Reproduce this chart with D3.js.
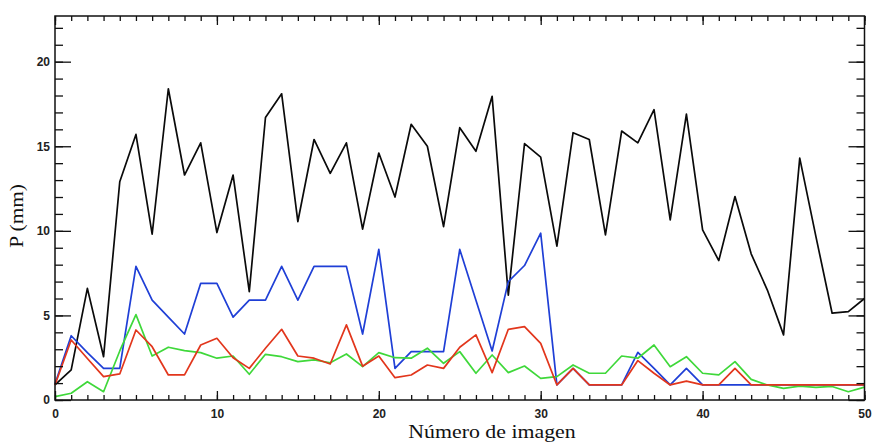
<!DOCTYPE html>
<html>
<head>
<meta charset="utf-8">
<script src="https://cdn.jsdelivr.net/npm/d3@7"></script>
<style>
	body { margin: 0; background: #fff; }
	svg { display: block; }
	.tick text { font-family: "Liberation Sans", Arial, sans-serif; font-size: 12px; font-weight: bold; fill: #222; }
	.tick line { stroke: #111; stroke-width: 1.3; }
	.title { font-family: "Liberation Serif", "Times New Roman", serif; font-size: 19px; fill: #111; }
</style>
</head>
<body>
<svg width="872" height="444"></svg>
<script>
// Data
var imageNumbers = d3.range(0, 51);
var blackSeries = [0.89, 1.78, 6.6, 2.56, 12.9, 15.7, 9.8, 18.4, 13.3, 15.2, 9.9,
	13.3, 6.4, 16.7, 18.1, 10.55, 15.4, 13.4, 15.2, 10.1, 14.6,
	12.0, 16.3, 15.0, 10.25, 16.1, 14.7, 17.95, 6.2, 15.15, 14.36,
	9.1, 15.8, 15.4, 9.76, 15.9, 15.2, 17.16, 10.65, 16.9, 10.06,
	8.24, 12.03, 8.64, 6.5, 3.85, 14.3, 9.66, 5.13, 5.22, 6.0];
var blueSeries = [0.95, 3.8, 2.8, 1.87, 1.87, 7.9, 5.9, 4.9, 3.9, 6.9, 6.9,
	4.9, 5.9, 5.9, 7.9, 5.9, 7.9, 7.9, 7.9, 3.9, 8.9,
	1.87, 2.86, 2.86, 2.86, 8.9, 5.9, 2.9, 7.0, 7.95, 9.86,
	0.89, 1.87, 0.89, 0.89, 0.89, 2.82, 1.87, 0.89, 1.87, 0.89,
	0.89, 0.89, 0.89, 0.89, 0.89, 0.89, 0.89, 0.89, 0.89, 0.89];
var greenSeries = [0.2, 0.4, 1.08, 0.49, 2.9, 5.05, 2.6, 3.12, 2.92, 2.8, 2.47,
	2.6, 1.52, 2.7, 2.56, 2.27, 2.37, 2.2, 2.72, 1.97, 2.8,
	2.5, 2.47, 3.06, 2.17, 2.86, 1.58, 2.66, 1.62, 2.01, 1.28,
	1.38, 2.07, 1.58, 1.58, 2.6, 2.47, 3.25, 1.97, 2.56, 1.58,
	1.48, 2.27, 1.22, 0.89, 0.69, 0.82, 0.75, 0.8, 0.49, 0.76];
var redSeries = [0.89, 3.55, 2.45, 1.38, 1.54, 4.14, 3.15, 1.48, 1.48, 3.25, 3.65,
	2.5, 1.87, 3.06, 4.18, 2.6, 2.47, 2.13, 4.44, 2.0, 2.6,
	1.32, 1.48, 2.07, 1.87, 3.12, 3.85, 1.62, 4.18, 4.34, 3.35,
	0.89, 1.87, 0.89, 0.89, 0.89, 2.33, 1.58, 0.89, 1.12, 0.89,
	0.89, 1.87, 0.89, 0.89, 0.89, 0.89, 0.89, 0.89, 0.89, 0.89];
var xMajorTicks = [0, 10, 20, 30, 40, 50];
var yMajorTicks = [0, 5, 10, 15, 20];
var xTitle = "Número de imagen";
var yTitle = "P (mm)";

// drawn in this order, red ends up on top
var seriesList = [
	{ values: blackSeries, color: "#0a0a0a" },
	{ values: blueSeries, color: "#1f3fd6" },
	{ values: greenSeries, color: "#3fd83a" },
	{ values: redSeries, color: "#e2361c" },
];

// Sizing
var svg = d3.select("svg");
var plotLeft = 55, plotRight = 864.5, plotTop = 16, plotBottom = 400;

var xscale = d3.scaleLinear().domain([0, 50]).range([plotLeft, plotRight]);
var yscale = d3.scaleLinear().domain([0, 22.7]).range([plotBottom, plotTop]);

// Lines
var line = d3.line()
	.x((d, i) => xscale(imageNumbers[i]))
	.y((d) => yscale(d));

svg.append("g")
	.selectAll("path")
	.data(seriesList)
	.join("path")
	.attr("d", (s) => line(s.values))
	.attr("fill", "none")
	.attr("stroke", (s) => s.color)
	.attr("stroke-width", 1.7)
	.attr("stroke-linejoin", "round");

// Axes: ticks point inward, minor ticks every unit
function addAxis(axis, tx, ty) {
	var g = svg.append("g").attr("transform", `translate(${tx}, ${ty})`).call(axis);
	g.select(".domain").remove();
	return g;
}

var yMinor = d3.range(0, 23);

addAxis(d3.axisBottom(xscale).tickValues(xMajorTicks).tickSizeInner(-9).tickSizeOuter(0).tickPadding(9).tickFormat(d3.format("d")), 0, plotBottom);
addAxis(d3.axisBottom(xscale).tickValues(imageNumbers).tickSizeInner(-5).tickSizeOuter(0).tickFormat(""), 0, plotBottom);
addAxis(d3.axisTop(xscale).tickValues(xMajorTicks).tickSizeInner(-9).tickSizeOuter(0).tickFormat(""), 0, plotTop);
addAxis(d3.axisTop(xscale).tickValues(imageNumbers).tickSizeInner(-5).tickSizeOuter(0).tickFormat(""), 0, plotTop);

addAxis(d3.axisLeft(yscale).tickValues(yMajorTicks).tickSizeInner(-16).tickSizeOuter(0).tickPadding(5).tickFormat(d3.format("d")), plotLeft, 0);
addAxis(d3.axisLeft(yscale).tickValues(yMinor).tickSizeInner(-8).tickSizeOuter(0).tickFormat(""), plotLeft, 0);
addAxis(d3.axisRight(yscale).tickValues(yMajorTicks).tickSizeInner(-16).tickSizeOuter(0).tickFormat(""), plotRight, 0);
addAxis(d3.axisRight(yscale).tickValues(yMinor).tickSizeInner(-8).tickSizeOuter(0).tickFormat(""), plotRight, 0);

// Frame
svg.append("rect")
	.attr("x", plotLeft)
	.attr("y", plotTop)
	.attr("width", plotRight - plotLeft)
	.attr("height", plotBottom - plotTop)
	.attr("fill", "none")
	.attr("stroke", "#111")
	.attr("stroke-width", 1.5);

// Titles
svg.append("text")
	.attr("class", "title")
	.attr("text-anchor", "middle")
	.attr("transform", "translate(492, 437.5) scale(1.15, 1)")
	.text(xTitle);

svg.append("text")
	.attr("class", "title")
	.attr("text-anchor", "middle")
	.attr("transform", "translate(23, 216) rotate(-90) scale(1.12, 1)")
	.text(yTitle);
</script>
</body>
</html>
